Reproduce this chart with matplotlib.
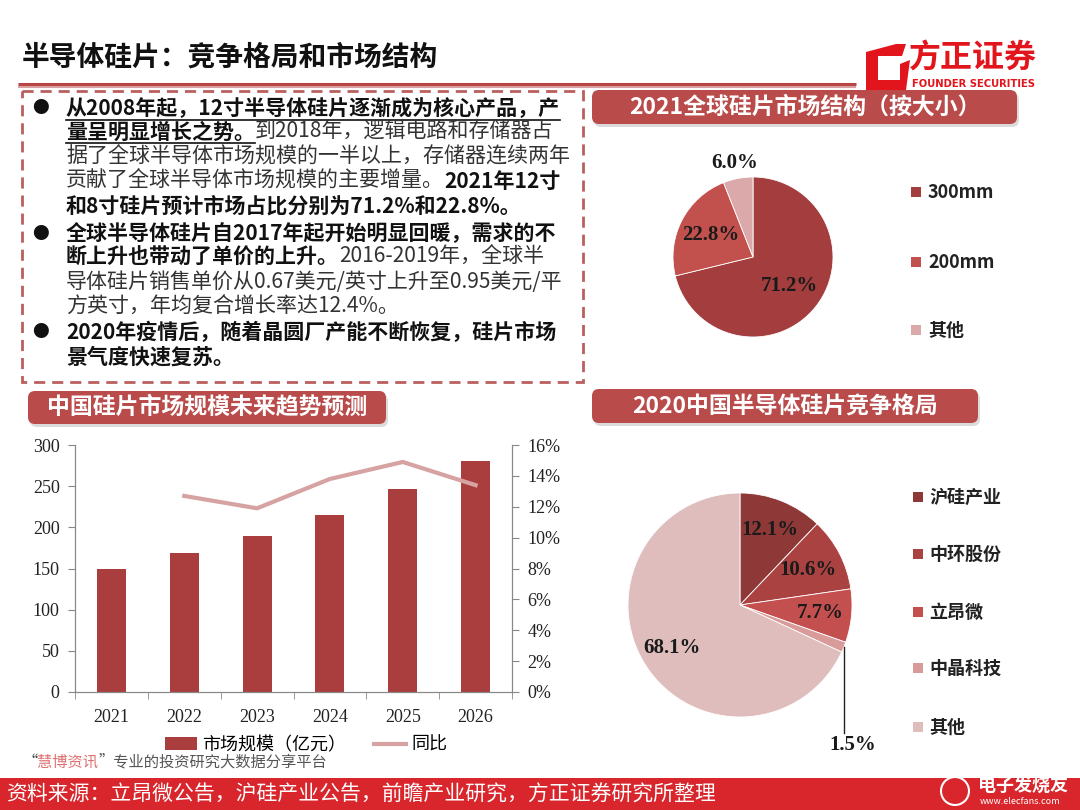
import numpy as np
import matplotlib
matplotlib.use("Agg")
import matplotlib.pyplot as plt
from matplotlib.patches import Rectangle, FancyBboxPatch, Polygon, Circle
from matplotlib.ticker import FixedLocator

plt.rcParams['font.family'] = ['Noto Sans CJK SC', 'DejaVu Sans']
SERIF = ['Liberation Serif', 'DejaVu Serif']

# ---- data ----
years = ['2021', '2022', '2023', '2024', '2025', '2026']
market_size = [150, 169, 189, 215, 247, 280]          # 亿元
yoy = [np.nan, 12.7, 11.9, 13.8, 14.9, 13.4]          # %

size_labels = ['300mm', '200mm', '其他']
size_share = [71.2, 22.8, 6.0]
size_colors = ['#a43d3d', '#c2514e', '#dba9a9']

firm_labels = ['沪硅产业', '中环股份', '立昂微', '中晶科技', '其他']
firm_share = [12.1, 10.6, 7.7, 1.5, 68.1]
firm_colors = ['#8e3838', '#ab4242', '#c44f4f', '#d99a9a', '#e0bdbd']

bar_color = '#aa3e3e'
line_color = '#d6a2a2'
head_color = '#b94b4b'

text_lines = [
    [('从2008年起，12寸半导体硅片逐渐成为核心产品，产', True, True)],
    [('量呈明显增长之势。', True, True), ('到2018年，逻辑电路和存储器占', False, False)],
    [('据了全球半导体市场规模的一半以上，存储器连续两年', False, False)],
    [('贡献了全球半导体市场规模的主要增量。', False, False), ('2021年12寸', True, False)],
    [('和8寸硅片预计市场占比分别为71.2%和22.8%。', True, False)],
    [('全球半导体硅片自2017年起开始明显回暖，需求的不', True, False)],
    [('断上升也带动了单价的上升。', True, False), ('2016-2019年，全球半', False, False)],
    [('导体硅片销售单价从0.67美元/英寸上升至0.95美元/平', False, False)],
    [('方英寸，年均复合增长率达12.4%。', False, False)],
    [('2020年疫情后，随着晶圆厂产能不断恢复，硅片市场', True, False)],
    [('景气度快速复苏。', True, False)],
]
line_y = [109, 132, 157, 181, 206, 234, 257, 282, 307, 332, 357]
bullet_rows = [0, 5, 9]

W, H = 1080, 810
fig = plt.figure(figsize=(10.8, 8.1), dpi=100)
fig.patch.set_facecolor('white')

bg = fig.add_axes([0, 0, 1, 1], zorder=0)
bg.set_xlim(0, W)
bg.set_ylim(H, 0)
bg.axis('off')


def px_axes(l, t, w, h):
    a = fig.add_axes([l / W, 1 - (t + h) / H, w / W, h / H], zorder=2)
    a.patch.set_visible(False)
    return a


def header(x0, y0, x1, y1, txt, size):
    bg.add_patch(FancyBboxPatch((x0 + 2, y0 + 3), x1 - x0, y1 - y0,
                                boxstyle='round,pad=0,rounding_size=7',
                                fc='#999999', ec='none', alpha=0.35))
    bg.add_patch(FancyBboxPatch((x0, y0), x1 - x0, y1 - y0,
                                boxstyle='round,pad=0,rounding_size=7',
                                fc=head_color, ec='none'))
    bg.text((x0 + x1) / 2, (y0 + y1) / 2, txt, color='white', fontsize=size,
            fontweight='bold', ha='center', va='center')


def chain(x, y, segs, **common):
    # place text pieces one after another on the same line
    prev, out = None, []
    for txt, kw in segs:
        k = dict(common)
        k.update(kw)
        if prev is None:
            t = bg.text(x, y, txt, va='center', ha='left', **k)
        else:
            t = bg.annotate(txt, xy=(1, 0.5), xycoords=prev, va='center', ha='left', **k)
        out.append(t)
        prev = t
    return out


# title + rule
bg.text(22, 58, '半导体硅片：竞争格局和市场结构', fontsize=20, fontweight='bold',
        va='center', ha='left', color='#111111')
bg.plot([18, 856], [84, 84], color='#b84444', lw=2.2, solid_capstyle='butt')
bg.plot([18, 856], [87, 87], color='#d8a0a0', lw=1.5, solid_capstyle='butt')

# logo
bg.add_patch(Polygon([(866, 52), (896, 44), (906, 44), (902, 56), (878, 56),
                      (878, 80), (900, 80), (900, 64), (910, 60), (906, 90),
                      (866, 90)], closed=True, fc='#e2141c', ec='none'))
bg.text(909, 59, '方正证券', color='#e2141c', fontsize=23, fontweight='bold',
        va='center', ha='left')
bg.text(912, 84, 'FOUNDER SECURITIES', color='#e2141c', fontsize=7.2,
        fontweight='bold', va='center', ha='left', family=['DejaVu Sans'])

# dashed text box
bg.add_patch(Rectangle((22, 91), 561, 291, fill=False, ec='#b9605e', lw=2,
                       ls=(0, (4, 2.5))))

underline_items = []
for segs, y in zip(text_lines, line_y):
    parts = [(txt, dict(fontweight='bold' if b else 'normal',
                        color='#111111' if b else '#333333')) for txt, b, _ in segs]
    arts = chain(66, y, parts, fontsize=15.1)
    underline_items += [a for a, (_, _, ul) in zip(arts, segs) if ul]
for r in bullet_rows:
    bg.text(40, line_y[r], '●', fontsize=12, va='center', ha='center', color='#111111')

# headers
header(592, 90, 1017, 124, '2021全球硅片市场结构（按大小）', 16.5)
header(28, 391, 386, 424, '中国硅片市场规模未来趋势预测', 16.5)
header(592, 389, 978, 423, '2020中国半导体硅片竞争格局', 16.5)

# ---- bar + line chart ----
ax = px_axes(75, 445, 437, 247)
x = np.arange(len(years))
bars = ax.bar(x, market_size, width=0.4, color=bar_color, label='市场规模（亿元）')
ax.set_xlim(-0.5, len(years) - 0.5)
ax.set_ylim(0, 300)
ax.set_yticks(range(0, 301, 50))
ax.set_xticks(x)
ax.set_xticklabels(years)
ax.xaxis.set_minor_locator(FixedLocator(np.arange(-0.5, len(years), 1)))
ax.tick_params(axis='x', which='major', length=0, pad=12)
ax.tick_params(axis='x', which='minor', length=5, color='#888888')
ax.tick_params(axis='y', length=5, color='#888888', pad=6)
ax2 = ax.twinx()
ax2.patch.set_visible(False)
ln, = ax2.plot(x, yoy, color=line_color, lw=3, label='同比')
ax2.set_ylim(0, 16)
ax2.set_yticks(range(0, 17, 2))
ax2.set_yticklabels([f'{v}%' for v in range(0, 17, 2)])
ax2.tick_params(axis='y', length=5, color='#888888', pad=6)
for a in (ax, ax2):
    a.spines['top'].set_visible(False)
    for s in ('left', 'right', 'bottom'):
        a.spines[s].set_color('#888888')
    for lab in a.get_xticklabels() + a.get_yticklabels():
        lab.set_family(SERIF)
        lab.set_fontsize(13)
        lab.set_color('#222222')
fig.legend(handles=[bars, ln], loc='center', bbox_to_anchor=(306 / W, 1 - 745 / H),
           ncol=2, frameon=False, fontsize=13, handlelength=1.8, columnspacing=1.5,
           handletextpad=0.3)

chain(22, 762, [('“', dict(color='#444444')), ('慧博资讯', dict(color='#e07070')),
                ('”专业的投资研究大数据分享平台', dict(color='#555555'))], fontsize=11)


# ---- pies ----
def draw_pie(axp, shares, colors, dists):
    wedges, _ = axp.pie(shares, colors=colors, startangle=90, counterclock=False,
                        radius=1, wedgeprops=dict(edgecolor='white', linewidth=0.6))
    axp.set_xlim(-1, 1)
    axp.set_ylim(-1, 1)
    axp.set_aspect('equal')
    axp.axis('off')
    mids = []
    for w, s, d in zip(wedges, shares, dists):
        m = np.deg2rad((w.theta1 + w.theta2) / 2)
        mids.append(m)
        if d is not None:
            axp.text(d * np.cos(m), d * np.sin(m), f'{s:.1f}%', family=SERIF,
                     fontweight='bold', fontsize=15, ha='center', va='center',
                     color='#1a1a1a')
    return mids


p1 = px_axes(673, 177, 160, 160)
draw_pie(p1, size_share, size_colors, [0.58, 0.6, 1.2])

p2 = px_axes(628, 493, 224, 224)
mids = draw_pie(p2, firm_share, firm_colors, [0.72, 0.68, 0.72, None, 0.72])
m = mids[3]
x0, y0 = np.cos(m), np.sin(m)
p2.plot([x0, x0], [y0, -1.14], color='#222222', lw=1, clip_on=False)
p2.text(x0 + 0.08, -1.25, f'{firm_share[3]:.1f}%', family=SERIF, fontweight='bold',
        fontsize=15, ha='center', va='center', color='#1a1a1a')

# pie legends
for lab, c, y in zip(size_labels, size_colors, [192, 262, 330]):
    bg.add_patch(Rectangle((911, y - 5), 10, 10, fc=c, ec='none'))
    bg.text(928, y, lab, fontsize=13, fontweight='bold', va='center', ha='left',
            color='#222222')
for lab, c, y in zip(firm_labels, firm_colors, [497, 554, 612, 668, 727]):
    bg.add_patch(Rectangle((913, y - 5), 10, 10, fc=c, ec='none'))
    bg.text(929, y, lab, fontsize=13, fontweight='bold', va='center', ha='left',
            color='#222222')

# bottom source band
bg.add_patch(Rectangle((0, 778), W, 32, fc='#d8262c', ec='none'))
bg.text(6, 795, '资料来源：立昂微公告，沪硅产业公告，前瞻产业研究，方正证券研究所整理',
        fontsize=15, color='white', va='center', ha='left')
bg.add_patch(Circle((955, 791), 14, fc='none', ec='white', lw=1.5))
bg.text(978, 785, '电子发烧友', fontsize=13, fontweight='bold', color='white',
        va='center', ha='left')
bg.text(980, 801, 'www.elecfans.com', fontsize=6.5, color='white', va='center', ha='left')

# underline the lead sentence
fig.canvas.draw()
inv = bg.transData.inverted()
for t in underline_items:
    bb = t.get_window_extent()
    (ux0, uy0), (ux1, uy1) = inv.transform([(bb.x0, bb.y0), (bb.x1, bb.y1)])
    yb = max(uy0, uy1)
    bg.plot([ux0, ux1], [yb, yb], color='#111111', lw=1.2)

fig.savefig('out.png', dpi=100)
